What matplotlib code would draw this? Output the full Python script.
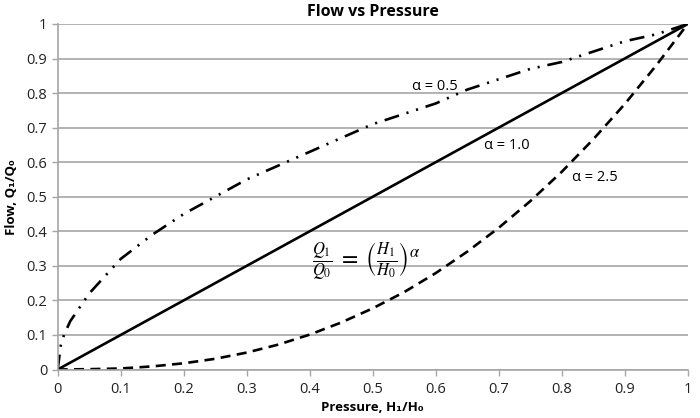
import matplotlib
matplotlib.use("Agg")
import matplotlib.pyplot as plt

plt.rcParams['font.family'] = ['Open Sans', 'DejaVu Sans']
plt.rcParams['mathtext.fontset'] = 'stix'

# values
x_half = [0, 0.005, 0.01, 0.02, 0.05, 0.1, 0.15, 0.2, 0.25, 0.3, 0.35, 0.4, 0.45, 0.5,
          0.55, 0.6, 0.65, 0.7, 0.75, 0.8, 0.85, 0.9, 0.95, 1.0]
y_half = [0, 0.07, 0.1, 0.14, 0.22, 0.32, 0.39, 0.45, 0.5, 0.55, 0.59, 0.63, 0.67, 0.71,
          0.74, 0.77, 0.81, 0.84, 0.87, 0.89, 0.92, 0.95, 0.97, 1.0]

x_one = [0, 1.0]
y_one = [0, 1.0]

x_25 = [0, 0.05, 0.1, 0.15, 0.2, 0.25, 0.3, 0.35, 0.4, 0.45, 0.5, 0.55, 0.6, 0.65,
        0.7, 0.75, 0.8, 0.85, 0.9, 0.95, 1.0]
y_25 = [0, 0.001, 0.003, 0.009, 0.018, 0.031, 0.049, 0.072, 0.101, 0.136, 0.177, 0.224,
        0.279, 0.341, 0.41, 0.487, 0.572, 0.666, 0.768, 0.88, 1.0]

ticks = [0, 0.1, 0.2, 0.3, 0.4, 0.5, 0.6, 0.7, 0.8, 0.9, 1]
tick_labels = ['0', '0.1', '0.2', '0.3', '0.4', '0.5', '0.6', '0.7', '0.8', '0.9', '1']

fig = plt.figure(figsize=(7, 4.18), dpi=100)
ax = fig.add_axes([0.0824, 0.116, 0.9, 0.8266])

grid_c = '#a6a6a6'
ax.set_xlim(0, 1)
ax.set_ylim(0, 1)
ax.set_xticks(ticks)
ax.set_xticklabels(tick_labels)
ax.set_yticks(ticks)
ax.set_yticklabels(tick_labels)
ax.grid(axis='y', color=grid_c, linewidth=1.2)
ax.set_axisbelow(True)
for s in ['top', 'right']:
    ax.spines[s].set_visible(False)
for s in ['left', 'bottom']:
    ax.spines[s].set_color(grid_c)
    ax.spines[s].set_linewidth(1.2)
ax.tick_params(axis='both', colors=grid_c, length=4, width=1, labelsize=10.5,
               labelcolor='#222222')
ax.tick_params(axis='x', pad=5)

lw = 1.9
ax.plot(x_half, y_half, color='black', linewidth=lw,
        dashes=(5.7, 3, 0.8, 3, 0.8, 3), dash_capstyle='butt')
ax.plot(x_one, y_one, color='black', linewidth=lw)
ax.plot(x_25, y_25, color='black', linewidth=lw, dashes=(3.8, 2.4), dash_capstyle='butt')

ax.text(0.599, 0.82, 'α = 0.5', fontsize=10.5, ha='center', va='center')
ax.text(0.713, 0.647, 'α = 1.0', fontsize=10.5, ha='center', va='center')
ax.text(0.853, 0.557, 'α = 2.5', fontsize=10.5, ha='center', va='center')

ax.text(0.404, 0.31, r'$\frac{Q_1}{Q_0}\;=\;\left(\frac{H_1}{H_0}\right)^{\alpha}$',
        fontsize=17, ha='left', va='center')

ax.set_title('Flow vs Pressure', fontsize=11.5, fontweight='bold', pad=6)
ax.set_xlabel('Pressure, H₁/H₀', fontsize=9.5, fontweight='bold', labelpad=3)
ax.set_ylabel('Flow, Q₁/Q₀', fontsize=9.5, fontweight='bold', labelpad=6)

fig.savefig('out.png', dpi=100)
